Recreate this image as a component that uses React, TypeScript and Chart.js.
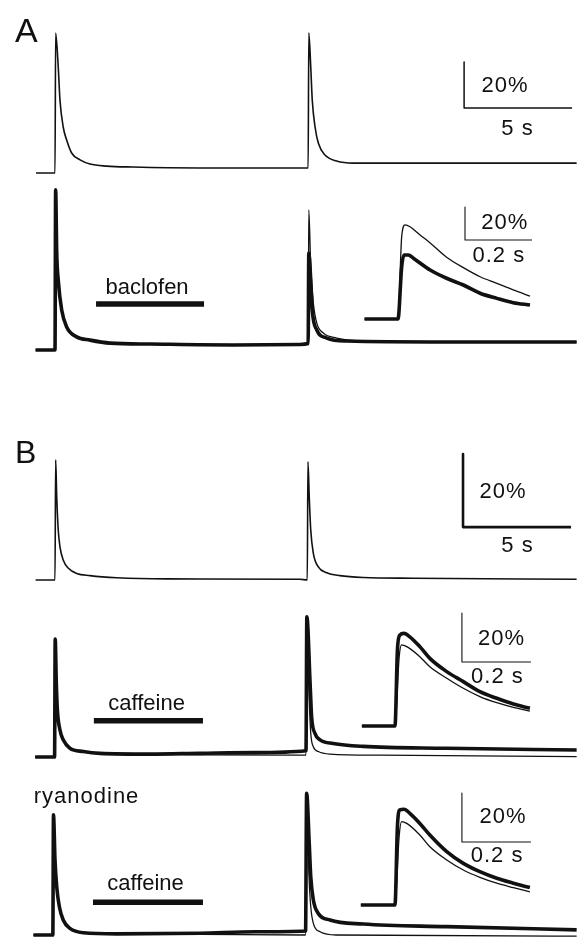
import React, { useEffect, useRef } from "react";
import { Chart, registerables } from "chart.js";

Chart.register(...registerables);

const W = 580;
const H = 938;

// ---------- Panel A, row 1 (control) : time (s) / dF/F (%) ----------
const tA1 = [-0.88, 0, 0.03, 0.15, 0.23, 0.38, 0.54, 0.77, 1.16, 1.62, 2.39, 3.6, 6.7, 11.3, 11.72, 11.75, 11.84, 11.91, 12.04, 12.19, 12.5, 13.04, 13.8, 15.05, 18.13, 24.15];
const vA1 = [0, 0, 60.9, 46.1, 31.7, 20, 14.3, 8.7, 5.7, 3.9, 3.0, 2.6, 2.2, 2.2, 2.2, 60.9, 46.1, 31.7, 20, 13, 7.8, 5.2, 4.3, 4.3, 4.3, 4.3];

// ---------- Panel A, row 2 (control thin / baclofen thick) ----------
const tA2first = [-0.9, 0, 0.03, 0.08, 0.15, 0.31, 0.54, 1.0, 1.62, 2.55, 4.4, 8.24, 11.34, 11.72];
const vA2first = [0, 0, 69.6, 42.2, 30.4, 17.4, 10, 5.7, 4.3, 3.0, 2.6, 2.2, 2.4, 2.8];
const tA2ctrl2 = [11.75, 11.84, 11.96, 12.12, 12.42, 13.04, 14.26, 18.13, 24.15];
const vA2ctrl2 = [60.9, 36.1, 20.4, 11.7, 7.4, 5.2, 3.9, 3.5, 3.5];
const tA2bac2 = [11.75, 11.84, 11.91, 12.12, 12.58, 13.5, 18.13, 24.15];
const vA2bac2 = [42.2, 30.4, 17.4, 8.7, 5.2, 3.9, 3.5, 3.5];

// inset A (expanded time, s)
const tIActrl = [-0.1, 0, 0.011, 0.021, 0.036, 0.066, 0.096, 0.145, 0.195, 0.245, 0.295, 0.344, 0.394];
const vIActrl = [0, 0, 49.9, 57, 55.9, 50.9, 46.1, 37.4, 31.1, 25.6, 21.6, 17.6, 13.9];
const tIAbac = [-0.1, 0, 0.011, 0.018, 0.031, 0.046, 0.096, 0.145, 0.195, 0.245, 0.295, 0.344, 0.394];
const vIAbac = [0, 0, 31.7, 38.8, 38.8, 36.8, 29.7, 24.7, 20.6, 15.6, 12.5, 9.9, 8.5];

// ---------- Panel B, row 1 (control) ----------
const tB1 = [-0.9, 0, 0.03, 0.08, 0.15, 0.23, 0.38, 0.62, 1.0, 1.62, 2.86, 5.17, 11.34, 11.68, 11.71, 11.77, 11.84, 11.96, 12.19, 12.58, 13.19, 14.27, 16.59, 24.15];
const vB1 = [0, 0, 32.9, 22.8, 13.7, 9.1, 5.5, 3.2, 1.8, 1.2, 0.6, 0.3, 0.2, 0, 32.4, 22.8, 13.7, 7.3, 3.6, 2.0, 1.2, 0.7, 0.5, 0.2];

// ---------- Panel B, row 2 (control thin / caffeine thick) ----------
const tB2first = [-0.92, -0.02, 0.01, 0.06, 0.11, 0.23, 0.38, 0.69, 1.31, 2.08, 4.4];
const vB2first = [0, 0, 32.3, 20.3, 12.9, 7.4, 4.7, 2.4, 1.5, 1.0, 0.8];
const tB2ctrl2 = [6.7, 11.62, 11.66, 11.77, 11.84, 11.96, 12.19, 12.73, 15.05, 24.15];
const vB2ctrl2 = [0.6, 0.5, 38.4, 15.6, 6.5, 2.8, 1.5, 0.8, 0.5, 0.1];
const tB2caf2 = [6.7, 9.26, 11.62, 11.66, 11.81, 11.88, 12.04, 12.27, 12.88, 14.27, 18.13, 24.15];
const vB2caf2 = [1.0, 1.2, 1.7, 38.4, 20.2, 11.0, 6.4, 4.7, 3.7, 2.9, 2.4, 1.9];

// inset B2
const tIB2ctrl = [-0.096, 0, 0.012, 0.019, 0.034, 0.072, 0.101, 0.15, 0.198, 0.246, 0.295, 0.343, 0.391];
const vIB2ctrl = [0, 0, 28, 33.1, 32.4, 28.3, 24.2, 19.5, 15.4, 12, 9.5, 7.6, 6.1];
const tIB2caf = [-0.096, 0, 0.007, 0.014, 0.026, 0.043, 0.072, 0.101, 0.15, 0.198, 0.246, 0.295, 0.343, 0.391];
const vIB2caf = [0, 0, 31, 37.1, 37.8, 36.4, 32.4, 27.6, 22.2, 18.1, 14, 11.3, 9.0, 7.2];

// ---------- Panel B, row 3 (ryanodine: control thin / caffeine thick) ----------
const tB3first = [-1.0, -0.1, -0.07, 0.0, 0.08, 0.2, 0.38, 0.69, 1.31, 2.86];
const vB3first = [0, 0, 32.9, 20.5, 13.2, 7.8, 4.1, 1.8, 0.6, 0.3];
const tB3ctrl2 = [6.71, 11.6, 11.65, 11.76, 11.84, 11.96, 12.27, 13.04, 24.15];
const vB3ctrl2 = [0.2, 0, 38.8, 16, 7.8, 3.2, 0.9, 0, -0.3];
const tB3caf2 = [6.71, 9.3, 11.6, 11.65, 11.77, 11.84, 11.96, 12.19, 12.73, 14.27, 18.13, 24.15];
const vB3caf2 = [0.5, 0.9, 1.1, 38.8, 25.1, 16, 9.6, 5.9, 4.1, 3.0, 2.3, 1.4];

// inset B3
const tIB3ctrl = [-0.099, 0, 0.012, 0.019, 0.034, 0.072, 0.101, 0.15, 0.198, 0.246, 0.295, 0.343, 0.391];
const vIB3ctrl = [0, 0, 28, 34, 33.3, 28.6, 23.8, 18.4, 14.3, 11.3, 8.9, 7.1, 5.4];
const tIB3caf = [-0.099, 0, 0.007, 0.014, 0.026, 0.043, 0.072, 0.101, 0.15, 0.198, 0.246, 0.295, 0.343, 0.391];
const vIB3caf = [0, 0, 32, 38.8, 39.1, 37.4, 33.3, 28.6, 21.8, 17, 13.6, 10.9, 8.9, 7.1];

// ---------- drug application bars (start s, end s) ----------
const baclofenBar = [1.9, 6.9];
const caffeineBarB2 = [1.8, 6.85];
const caffeineBarB3 = [1.76, 6.85];

// ---------- scale bars: [time length, % length] ----------
const mainScale = [5, 20];
const insetScale = [0.2, 20];

// ---------- layout (pixels) ----------
const xLayout: Record<string, [number, number]> = {
  // [pixel of t=0, px per second]
  x: [55, 21.6],
  xIA: [398, 335],
  xIB: [395, 345],
};
const yLayout: Record<string, [number, number]> = {
  // [pixel of 0 %, px per %]
  yA1: [173, 2.3],
  yA2: [350, 2.3],
  yIA: [319, 1.65],
  yB1: [580, 3.65],
  yB2: [757, 3.65],
  yIB2: [726, 2.45],
  yB3: [935, 3.65],
  yIB3: [905, 2.45],
};

const FONT = '"Liberation Sans", Arial, Helvetica, sans-serif';
type Label = { text: string; x: number; y: number; xAxis: string; yAxis: string; size: number; ls: number; align: CanvasTextAlign };
const LABELS: Label[] = [
  { text: "A", x: -1.85, y: 57, xAxis: "x", yAxis: "yA1", size: 34, ls: 0, align: "left" },
  { text: "20%", x: 20.83, y: 35.2, xAxis: "x", yAxis: "yA1", size: 22, ls: 1, align: "center" },
  { text: "5 s", x: 21.41, y: 16.5, xAxis: "x", yAxis: "yA1", size: 22, ls: 1, align: "center" },
  { text: "baclofen", x: 4.26, y: 24.3, xAxis: "x", yAxis: "yA2", size: 22, ls: 0, align: "center" },
  { text: "20%", x: 0.319, y: 54.4, xAxis: "xIA", yAxis: "yIA", size: 22, ls: 1, align: "center" },
  { text: "0.2 s", x: 0.301, y: 34.7, xAxis: "xIA", yAxis: "yIA", size: 22, ls: 1, align: "center" },
  { text: "B", x: -1.85, y: 32.1, xAxis: "x", yAxis: "yB1", size: 32, ls: 0, align: "left" },
  { text: "20%", x: 20.74, y: 22.4, xAxis: "x", yAxis: "yB1", size: 22, ls: 1, align: "center" },
  { text: "5 s", x: 21.41, y: 7.8, xAxis: "x", yAxis: "yB1", size: 22, ls: 1, align: "center" },
  { text: "caffeine", x: 4.24, y: 12.9, xAxis: "x", yAxis: "yB2", size: 22, ls: 0, align: "center" },
  { text: "20%", x: 0.309, y: 33.1, xAxis: "xIB", yAxis: "yIB2", size: 22, ls: 1, align: "center" },
  { text: "0.2 s", x: 0.297, y: 17.4, xAxis: "xIB", yAxis: "yIB2", size: 22, ls: 1, align: "center" },
  { text: "ryanodine", x: 1.46, y: 36.2, xAxis: "x", yAxis: "yB3", size: 22, ls: 1, align: "center" },
  { text: "caffeine", x: 4.19, y: 12.3, xAxis: "x", yAxis: "yB3", size: 22, ls: 0, align: "center" },
  { text: "20%", x: 0.313, y: 33.3, xAxis: "xIB", yAxis: "yIB3", size: 22, ls: 1, align: "center" },
  { text: "0.2 s", x: 0.296, y: 17.7, xAxis: "xIB", yAxis: "yIB3", size: 22, ls: 1, align: "center" },
];

// scale bar anchors: [x axis, y axis, t origin, % origin, lineWidth, lengths]
const SCALEBARS: [string, string, number, number, number, number[]][] = [
  ["x", "yA1", 18.94, 28.3, 1.5, mainScale],
  ["xIA", "yIA", 0.2, 47.9, 1.1, insetScale],
  ["x", "yB1", 18.89, 14.5, 2.6, mainScale],
  ["xIB", "yIB2", 0.194, 26.1, 1.1, insetScale],
  ["xIB", "yIB3", 0.194, 25.7, 1.1, insetScale],
];

const INK = "#111";

function pts(t: number[], v: number[]) {
  return t.map((x, i) => ({ x, y: v[i] }));
}

function trace(t: number[], v: number[], xAxisID: string, yAxisID: string, width: number, smooth = true) {
  return {
    data: pts(t, v),
    xAxisID,
    yAxisID,
    borderColor: INK,
    backgroundColor: INK,
    borderWidth: width,
    pointRadius: 0,
    fill: false,
    tension: 0,
    cubicInterpolationMode: smooth ? "monotone" : "default",
    borderJoinStyle: "round" as CanvasLineJoin,
    borderCapStyle: "butt" as CanvasLineCap,
    clip: false as any,
  };
}

function buildDatasets() {
  const ds: any[] = [];
  const THIN = 1.3;
  const MID = 1.6;
  const THICK = 3.6;
  // A1
  ds.push(trace(tA1, vA1, "x", "yA1", MID));
  // A2
  ds.push(trace(tA2first.concat(tA2ctrl2), vA2first.concat(vA2ctrl2), "x", "yA2", THIN));
  ds.push(trace(tA2first.concat(tA2bac2), vA2first.concat(vA2bac2), "x", "yA2", THICK));
  ds.push(trace(tIActrl, vIActrl, "xIA", "yIA", THIN));
  ds.push(trace(tIAbac, vIAbac, "xIA", "yIA", THICK));
  // B1
  ds.push(trace(tB1, vB1, "x", "yB1", MID));
  // B2
  ds.push(trace(tB2first.concat(tB2ctrl2), vB2first.concat(vB2ctrl2), "x", "yB2", THIN));
  ds.push(trace(tB2first.concat(tB2caf2), vB2first.concat(vB2caf2), "x", "yB2", THICK));
  ds.push(trace(tIB2ctrl, vIB2ctrl, "xIB", "yIB2", THIN));
  ds.push(trace(tIB2caf, vIB2caf, "xIB", "yIB2", THICK));
  // B3
  ds.push(trace(tB3first.concat(tB3ctrl2), vB3first.concat(vB3ctrl2), "x", "yB3", THIN));
  ds.push(trace(tB3first.concat(tB3caf2), vB3first.concat(vB3caf2), "x", "yB3", THICK));
  ds.push(trace(tIB3ctrl, vIB3ctrl, "xIB", "yIB3", THIN));
  ds.push(trace(tIB3caf, vIB3caf, "xIB", "yIB3", THICK));
  // drug bars
  ds.push(trace(baclofenBar, [20, 20], "x", "yA2", 5.5, false));
  ds.push(trace(caffeineBarB2, [9.9, 9.9], "x", "yB2", 5.5, false));
  ds.push(trace(caffeineBarB3, [9.0, 9.0], "x", "yB3", 5.5, false));
  // scale bars
  for (const [xa, ya, t0, v0, w, s] of SCALEBARS) {
    ds.push(trace([t0, t0, t0 + s[0]], [v0 + s[1], v0, v0], xa, ya, w, false));
  }
  return ds;
}

function buildScales() {
  const scales: any = {};
  for (const id of Object.keys(xLayout)) {
    const [p0, k] = xLayout[id];
    scales[id] = { type: "linear", display: false, min: -p0 / k, max: (W - p0) / k, axis: "x" };
  }
  for (const id of Object.keys(yLayout)) {
    const [p0, k] = yLayout[id];
    scales[id] = { type: "linear", display: false, min: (p0 - H) / k, max: p0 / k, axis: "y" };
  }
  return scales;
}

const labelPlugin = {
  id: "figureLabels",
  afterDatasetsDraw(chart: any) {
    const ctx: CanvasRenderingContext2D = chart.ctx;
    for (const L of LABELS) {
      const x = chart.scales[L.xAxis].getPixelForValue(L.x);
      const y = chart.scales[L.yAxis].getPixelForValue(L.y);
      ctx.save();
      ctx.font = `${L.size}px ${FONT}`;
      (ctx as any).letterSpacing = `${L.ls}px`;
      ctx.textAlign = L.align;
      ctx.textBaseline = "alphabetic";
      ctx.fillStyle = INK;
      ctx.fillText(L.text, x, y);
      ctx.restore();
    }
  },
};

const whiteBg = {
  id: "whiteBg",
  beforeDraw(chart: any) {
    const ctx = chart.ctx;
    ctx.save();
    ctx.fillStyle = "#fff";
    ctx.fillRect(0, 0, chart.width, chart.height);
    ctx.restore();
  },
};

export default function App() {
  const ref = useRef<HTMLCanvasElement>(null);
  useEffect(() => {
    if (!ref.current) return;
    const chart = new Chart(ref.current, {
      type: "line",
      data: { datasets: buildDatasets() },
      options: {
        responsive: false,
        maintainAspectRatio: false,
        animation: false,
        devicePixelRatio: 1,
        events: [],
        layout: { padding: 0 },
        plugins: {
          legend: { display: false },
          tooltip: { enabled: false },
          title: { display: false },
        },
        elements: { point: { radius: 0 } },
        scales: buildScales(),
      } as any,
      plugins: [whiteBg, labelPlugin],
    });
    return () => chart.destroy();
  }, []);
  return (
    <div style={{ position: "absolute", left: 0, top: 0, width: W, height: H, background: "#fff" }}>
      <canvas ref={ref} width={W} height={H} style={{ display: "block", width: W, height: H }} />
    </div>
  );
}
